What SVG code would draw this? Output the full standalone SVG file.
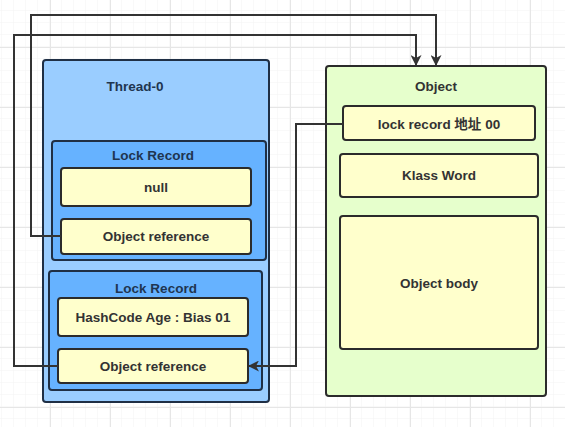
<svg xmlns="http://www.w3.org/2000/svg" width="565" height="427" viewBox="0 0 565 427">
<style>
.t{font-family:"Liberation Sans","Noto Sans CJK SC",sans-serif;font-size:13.5px;font-weight:bold;fill:#333;text-anchor:middle;dominant-baseline:central}
.tb{fill:#1f3550}
.thr{fill:#9ACDFF;stroke:#1f2f45;stroke-width:2}
.lr{fill:#66B2FF;stroke:#1f2f45;stroke-width:2}
.y{fill:#FFFFCC;stroke:#2b2b2b;stroke-width:2}
.obj{fill:#E6FFCC;stroke:#2b2b2b;stroke-width:2}
.c{fill:none;stroke:#333;stroke-width:2}
</style>
<defs>
<pattern id="gm" width="12" height="12" patternUnits="userSpaceOnUse" x="2" y="11">
<path d="M12 0V12M0 12H12" fill="none" stroke="#f3f3f3" stroke-width="1"/>
</pattern>
<pattern id="gM" width="60" height="60" patternUnits="userSpaceOnUse" x="50" y="47">
<path d="M0.5 0V60M0 0.5H60" fill="none" stroke="#e6e6e6" stroke-width="1"/>
</pattern>
<marker id="ah" markerWidth="11" markerHeight="11" viewBox="0 0 11 11" refX="10" refY="5.5" orient="auto" markerUnits="userSpaceOnUse">
<path d="M0 0L11 5.5L0 11L3 5.5Z" fill="#333"/>
</marker>
</defs>
<rect width="565" height="427" fill="#fff"/>
<rect width="565" height="427" fill="url(#gm)"/>
<rect width="565" height="427" fill="url(#gM)"/>

<g id="thread0">
<rect class="thr" x="43" y="60" width="226" height="342" rx="3"/>
<text class="t tb" x="135" y="86">Thread-0</text>
</g>
<g id="lockrecord1">
<rect class="lr" x="52" y="141" width="214" height="119" rx="3"/>
<text class="t tb" x="153" y="155">Lock Record</text>
</g>
<g id="null">
<rect class="y" x="61" y="168" width="190" height="38" rx="3"/>
<text class="t" x="156" y="187">null</text>
</g>
<g id="objref1">
<rect class="y" x="61" y="219" width="190" height="35" rx="3"/>
<text class="t" x="156" y="236">Object reference</text>
</g>
<g id="lockrecord2">
<rect class="lr" x="49" y="271" width="213" height="119" rx="3"/>
<text class="t tb" x="156" y="288">Lock Record</text>
</g>
<g id="hashcode">
<rect class="y" x="58" y="298" width="190" height="38" rx="3"/>
<text class="t" x="153" y="317">HashCode Age : Bias 01</text>
</g>
<g id="objref2">
<rect class="y" x="58" y="349" width="190" height="34" rx="3"/>
<text class="t" x="153" y="366">Object reference</text>
</g>
<g id="object">
<rect class="obj" x="326" y="66" width="220" height="330" rx="3"/>
<text class="t" x="436" y="86">Object</text>
</g>
<g id="lockaddr">
<rect class="y" x="343" y="106" width="192" height="34" rx="3"/>
<text class="t" x="439" y="124">lock record 地址 00</text>
</g>
<g id="klass">
<rect class="y" x="340" y="154" width="198" height="43" rx="3"/>
<text class="t" x="439" y="175">Klass Word</text>
</g>
<g id="body">
<rect class="y" x="340" y="216" width="198" height="133" rx="3"/>
<text class="t" x="439" y="283">Object body</text>
</g>

<g id="connectors">
<path class="c" d="M61 236H31V15H436V65" marker-end="url(#ah)"/>
<path class="c" d="M58 366H14V35H416V65" marker-end="url(#ah)"/>
<path class="c" d="M343 124H296V366H249" marker-end="url(#ah)"/>
</g>
</svg>
